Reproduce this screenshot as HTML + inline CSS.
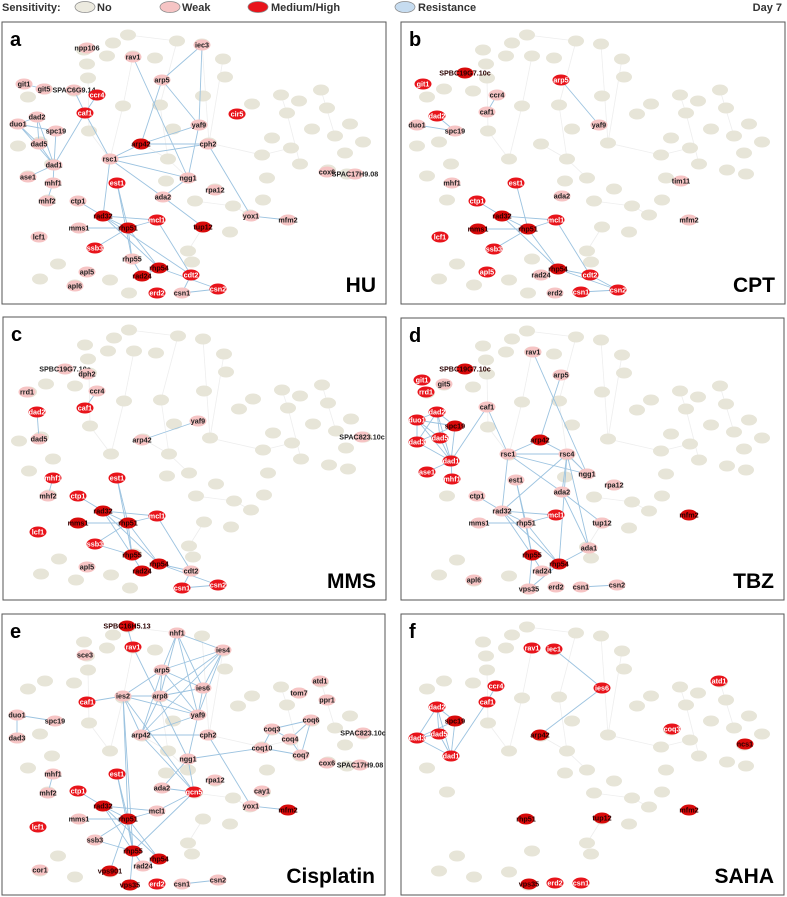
<!DOCTYPE html>
<html><head><meta charset="utf-8">
<style>
html,body{margin:0;padding:0;background:#fff;}
svg{display:block;font-family:"Liberation Sans",Arial,sans-serif;}
</style></head>
<body>
<svg id="fig" width="787" height="897" viewBox="0 0 787 897" xmlns="http://www.w3.org/2000/svg">
  <g font-weight="bold" font-size="11">
    <text x="2" y="11" fill="#333">Sensitivity:</text>
    <ellipse cx="85" cy="7" rx="10" ry="5.5" fill="#eceadf" stroke="#888" stroke-width="0.7"/>
    <text x="97" y="11" fill="#333">No</text>
    <ellipse cx="170" cy="7" rx="10" ry="5.5" fill="#f6c4c4" stroke="#888" stroke-width="0.7"/>
    <text x="182" y="11" fill="#333">Weak</text>
    <ellipse cx="258" cy="7" rx="10" ry="5.5" fill="#e8141b" stroke="#888" stroke-width="0.7"/>
    <text x="271" y="11" fill="#333">Medium/High</text>
    <ellipse cx="405" cy="7" rx="10" ry="5.5" fill="#c6dcf0" stroke="#888" stroke-width="0.7"/>
    <text x="418" y="11" fill="#333">Resistance</text>
    <text x="782" y="11" text-anchor="end" fill="#333">Day 7</text>
  </g>
</svg>
<script>
const panelLetters = ["a","b","c","d","e","f"];
const panelDrugs = ["HU","CPT","MMS","TBZ","Cisplatin","SAHA"];
const panelBoxes = [[2,22,384,282],[401,22,384,282],[3,317,383,283],[401,318,383,282],[2,614,383,281],[401,614,383,281]];

const greyNodes = [[126,13],[111,21],[175,19],[200,22],[82,28],[105,34],[131,34],[153,36],[221,37],[85,42],[223,55],[86,56],[43,67],[72,69],[26,75],[201,74],[121,84],[158,83],[250,82],[236,92],[319,68],[279,73],[297,79],[325,86],[285,91],[171,107],[87,109],[310,107],[348,102],[333,114],[361,120],[270,116],[16,124],[38,120],[140,122],[207,121],[289,126],[343,131],[108,137],[166,137],[260,133],[50,142],[298,142],[326,148],[345,152],[26,154],[186,156],[213,167],[46,178],[193,179],[261,178],[231,184],[248,193],[201,205],[228,210],[131,237],[186,229],[56,242],[38,257],[73,263],[108,258],[127,271],[164,159],[265,156],[190,240]];
const greyEdges = [[126,13,175,19],[175,19,158,83],[200,22,207,121],[131,34,121,84],[121,84,108,137],[158,83,166,137],[207,121,260,133],[260,133,289,126],[279,73,285,91],[285,91,298,142],[319,68,333,114],[86,56,87,109],[87,109,108,137],[166,137,186,156],[193,179,231,184],[231,184,248,193],[186,229,201,205],[140,122,166,137],[221,37,207,121]];

const nodesA = [["npp106",85,26,1],["rav1",131,35,1],["iec3",200,23,1],["arp5",160,58,1],["git1",22,62,1],["git5",42,67,1],["SPAC6G9.14",72,68,1],["ccr4",95,73,2],["caf1",83,91,2],["cir5",235,92,2],["dad2",35,95,1],["duo1",16,102,1],["spc19",54,109,1],["yaf9",197,103,1],["dad5",37,122,1],["arp42",139,122,3],["cph2",206,122,1],["rsc1",108,137,1],["dad1",52,143,1],["ase1",26,155,1],["ngg1",186,156,1],["cox6",325,150,1],["SPAC17H9.08",353,152,1],["mhf1",51,161,1],["est1",115,161,2],["rpa12",213,168,1],["ada2",161,175,1],["mhf2",45,179,1],["ctp1",76,179,1],["rad32",101,194,3],["mcl1",155,198,2],["yox1",249,194,1],["mfm2",286,198,1],["mms1",77,206,1],["rhp51",126,206,3],["tup12",201,205,3],["lcf1",37,215,1],["ssb3",93,226,2],["rhp55",130,237,1],["rhp54",157,246,3],["apl5",85,250,1],["rad24",140,254,3],["cdt2",189,253,2],["apl6",73,264,1],["erd2",155,271,2],["csn1",180,271,1],["csn2",216,267,2]];
const edgesA = [["iec3","arp5"],["iec3","yaf9"],["rav1","ngg1"],["arp5","arp42"],["arp5","yaf9"],["git1","git5"],["SPAC6G9.14","caf1"],["ccr4","caf1"],["caf1","dad1"],["caf1","rsc1"],["dad2","duo1"],["dad2","dad5"],["dad2","dad1"],["duo1","spc19"],["duo1","dad5"],["duo1","dad1"],["spc19","dad1"],["dad5","dad1"],["dad1","ase1"],["dad1","mhf1"],["mhf1","mhf2"],["yaf9","arp42"],["yaf9","ngg1"],["cph2","arp42"],["cph2","rsc1"],["cph2","yox1"],["rsc1","arp42"],["rsc1","ngg1"],["rsc1","ada2"],["rsc1","rad32"],["ngg1","ada2"],["ada2","tup12"],["est1","rhp51"],["est1","rhp55"],["ctp1","rad32"],["rad32","rhp51"],["rad32","mcl1"],["rad32","rhp54"],["mms1","rhp51"],["rhp51","mcl1"],["rhp51","ssb3"],["rhp51","rhp55"],["rhp51","rhp54"],["rhp55","rad24"],["rhp54","csn2"],["mcl1","cdt2"],["cdt2","csn1"],["csn1","csn2"],["yox1","mfm2"],["rhp54","rad24"],["rad32","cdt2"]];

const nodesB = [["SPBC19G7.10c",64,51,3],["git1",22,62,2],["arp5",160,58,2],["ccr4",96,73,1],["caf1",86,90,1],["dad2",36,94,2],["duo1",16,103,1],["yaf9",198,103,1],["spc19",54,109,1],["mhf1",51,161,1],["est1",115,161,2],["tim11",280,159,1],["ada2",161,174,1],["ctp1",76,179,2],["rad32",101,194,3],["mcl1",155,198,2],["mfm2",288,198,1],["mms1",77,207,3],["rhp51",127,207,3],["lcf1",39,215,2],["ssb3",93,227,2],["rhp54",157,247,3],["apl5",86,250,2],["rad24",140,253,1],["cdt2",189,253,2],["csn2",217,268,2],["csn1",180,270,2],["erd2",154,271,1]];
const edgesB = [["arp5","yaf9"],["ccr4","caf1"],["dad2","spc19"],["duo1","spc19"],["est1","rhp51"],["ctp1","rad32"],["rad32","rhp51"],["rad32","mcl1"],["rad32","rhp54"],["mms1","rhp51"],["rhp51","mcl1"],["rhp51","ssb3"],["rhp51","rhp54"],["mcl1","cdt2"],["rhp54","cdt2"],["cdt2","csn2"],["csn1","csn2"],["rhp54","csn2"]];

const nodesC = [["SPBC19G7.10c",62,52,1],["dph2",84,57,1],["rrd1",24,75,1],["ccr4",94,74,1],["caf1",82,91,2],["dad2",34,95,2],["yaf9",195,104,1],["dad5",36,122,1],["arp42",139,123,1],["SPAC823.10c",359,120,1],["mhf1",50,161,2],["est1",114,161,2],["mhf2",45,179,1],["ctp1",75,179,2],["rad32",100,194,3],["mcl1",154,199,2],["mms1",75,206,3],["rhp51",125,206,3],["lcf1",35,215,2],["ssb3",92,227,2],["rhp55",129,238,3],["rhp54",156,247,3],["apl5",84,250,1],["rad24",139,254,3],["cdt2",188,254,1],["csn1",179,271,2],["csn2",215,268,2]];
const edgesC = [["ccr4","caf1"],["dad2","dad5"],["yaf9","arp42"],["mhf1","mhf2"],["est1","rhp51"],["est1","rhp55"],["ctp1","rad32"],["rad32","rhp51"],["rad32","mcl1"],["rad32","rhp55"],["rad32","rhp54"],["mms1","rhp51"],["rhp51","mcl1"],["rhp51","ssb3"],["rhp51","rhp55"],["rhp51","rhp54"],["ssb3","rhp55"],["rhp55","rad24"],["mcl1","cdt2"],["rhp54","cdt2"],["rhp54","csn2"],["cdt2","csn1"],["csn1","csn2"]];

const nodesD = [["rav1",132,34,1],["SPBC19G7.10c",64,51,3],["git1",21,62,2],["git5",43,66,1],["rrd1",25,74,2],["arp5",160,57,1],["caf1",86,89,1],["dad2",36,94,2],["duo1",16,102,2],["spc19",54,108,3],["dad5",39,120,2],["dad3",16,124,2],["arp42",139,122,3],["rsc1",107,136,1],["rsc4",166,136,1],["dad1",50,143,2],["ngg1",186,156,1],["ase1",26,154,2],["mhf1",51,161,2],["est1",115,162,1],["rpa12",213,167,1],["ada2",161,174,1],["ctp1",76,178,1],["rad32",101,193,1],["mcl1",155,197,2],["mfm2",288,197,3],["mms1",78,205,1],["rhp51",125,205,1],["tup12",201,205,1],["ada1",188,230,1],["rhp55",131,237,3],["rhp54",158,246,3],["rad24",141,253,1],["apl6",73,262,1],["vps35",128,271,1],["erd2",155,269,1],["csn1",180,269,1],["csn2",216,267,1]];
const edgesD = [["duo1","dad2"],["duo1","spc19"],["duo1","dad5"],["duo1","dad3"],["duo1","dad1"],["dad2","spc19"],["dad2","dad5"],["dad2","dad1"],["dad2","dad3"],["spc19","dad1"],["dad5","dad1"],["dad3","dad1"],["dad3","spc19"],["dad1","ase1"],["dad1","mhf1"],["dad1","caf1"],["caf1","rsc1"],["rav1","ngg1"],["arp5","arp42"],["arp42","rsc4"],["rsc1","arp42"],["rsc1","rsc4"],["rsc1","ngg1"],["rsc1","ada2"],["rsc1","rad32"],["rsc4","ngg1"],["rsc4","ada2"],["rsc4","rad32"],["rsc4","ada1"],["rsc4","rhp54"],["est1","rhp51"],["est1","rhp55"],["ctp1","rad32"],["rad32","mcl1"],["rad32","rhp51"],["rad32","rhp55"],["rad32","rhp54"],["mms1","rhp51"],["rhp51","mcl1"],["rhp51","rhp55"],["rhp51","rhp54"],["ada2","tup12"],["ada2","ada1"],["ada1","rhp54"],["rhp55","vps35"],["rhp55","rad24"],["rhp54","rad24"],["rhp54","vps35"],["csn1","csn2"]];

const nodesE = [["SPBC16H5.13",125,12,3],["nhf1",175,19,1],["rav1",131,33,2],["ies4",221,36,1],["sce3",83,41,1],["arp5",160,56,1],["atd1",318,67,1],["ies6",201,74,1],["tom7",297,79,1],["ies2",121,82,1],["arp8",158,82,1],["caf1",85,88,2],["ppr1",325,86,1],["duo1",15,101,1],["yaf9",196,101,1],["coq6",309,106,1],["spc19",53,107,1],["coq3",270,115,1],["arp42",139,121,1],["cph2",206,121,1],["coq4",288,125,1],["dad3",15,124,1],["SPAC823.10c",361,119,1],["coq10",260,134,1],["coq7",299,141,1],["ngg1",186,145,1],["cox6",325,149,1],["SPAC17H9.08",358,151,1],["est1",115,160,2],["mhf1",51,160,1],["rpa12",213,166,1],["ada2",160,174,1],["gcn5",192,178,2],["ctp1",76,177,2],["mhf2",46,179,1],["cay1",260,177,1],["rad32",101,192,3],["yox1",249,192,1],["mfm2",286,196,3],["mcl1",155,197,1],["mms1",77,205,1],["rhp51",126,205,3],["lcf1",36,213,2],["ssb3",93,226,1],["rhp55",131,237,3],["rhp54",157,245,3],["rad24",141,252,1],["cor1",38,256,1],["vps901",108,257,3],["vps35",128,271,3],["erd2",155,270,2],["csn1",180,270,1],["csn2",216,266,1]];
const edgesE = [["SPBC16H5.13","rav1"],["rav1","ngg1"],["nhf1","ies4"],["nhf1","arp5"],["nhf1","arp8"],["nhf1","ies6"],["nhf1","yaf9"],["ies4","arp5"],["ies4","arp8"],["ies4","ies6"],["ies4","yaf9"],["ies4","arp42"],["arp5","arp8"],["arp5","ies6"],["arp5","yaf9"],["arp5","arp42"],["arp5","ies2"],["ies2","caf1"],["ies2","arp8"],["ies2","yaf9"],["ies2","arp42"],["ies2","rhp51"],["ies2","rhp55"],["ies2","gcn5"],["arp8","arp42"],["arp8","ies6"],["arp8","yaf9"],["ies6","yaf9"],["yaf9","arp42"],["yaf9","ngg1"],["arp42","cph2"],["arp42","gcn5"],["cph2","yox1"],["ngg1","coq10"],["ngg1","ada2"],["ngg1","gcn5"],["coq10","coq3"],["coq10","coq7"],["coq3","coq6"],["coq3","coq4"],["coq6","coq4"],["coq6","coq7"],["coq4","coq7"],["duo1","spc19"],["duo1","dad3"],["mhf1","mhf2"],["est1","rhp51"],["est1","rhp55"],["ctp1","rad32"],["rad32","rhp51"],["rad32","mcl1"],["rad32","rhp55"],["rad32","rhp54"],["mms1","rhp51"],["rhp51","mcl1"],["rhp51","ssb3"],["rhp51","rhp55"],["rhp51","rhp54"],["rhp51","vps901"],["mcl1","gcn5"],["gcn5","rhp55"],["ssb3","rhp55"],["rhp55","rad24"],["rhp55","vps35"],["rhp54","rad24"],["yox1","mfm2"],["csn1","csn2"],["ada2","gcn5"]];

const nodesF = [["rav1",131,34,2],["iec1",153,35,2],["ies6",201,74,2],["atd1",318,67,2],["ccr4",95,72,2],["caf1",86,88,2],["dad2",36,93,2],["spc19",54,107,3],["coq3",271,115,2],["dad5",38,120,2],["arp42",139,121,3],["dad3",16,124,2],["ncs1",344,130,3],["dad1",50,142,2],["mfm2",288,196,3],["rhp51",125,205,3],["tup12",201,204,3],["vps35",128,270,3],["erd2",154,269,2],["csn1",180,269,2]];
const edgesF = [["iec1","ies6"],["ies6","arp42"],["dad2","spc19"],["dad2","dad5"],["dad2","dad3"],["dad2","dad1"],["spc19","dad1"],["spc19","dad3"],["dad5","dad1"],["dad3","dad1"],["dad3","dad5"],["caf1","dad1"],["ccr4","caf1"]];

const allNodes = [nodesA,nodesB,nodesC,nodesD,nodesE,nodesF];
const allEdges = [edgesA,edgesB,edgesC,edgesD,edgesE,edgesF];

const NS = "http://www.w3.org/2000/svg";
const svg = document.getElementById("fig");
const fills = ["#e7e5d8","#f6c4c4","#e8141b","#d80a0a"];
const textCols = ["#ccc","#222","#fff","#2a0000"];
function mk(tag, attrs, parent){ const e=document.createElementNS(NS,tag); for(const k in attrs) e.setAttribute(k,attrs[k]); parent.appendChild(e); return e; }

panelBoxes.forEach((b,pi)=>{
  const g = mk("g",{transform:`translate(${b[0]},${b[1]})`},svg);
  
  
  const r = mk("rect",{x:0,y:0,width:b[2],height:b[3],fill:"#fff",stroke:"#555","stroke-width":1},g);
  
  
  greyEdges.forEach(e=>{
    const l = mk("line",{x1:e[0],y1:e[1],x2:e[2],y2:e[3],stroke:"#eeeeee","stroke-width":0.8},g);
    
    
  });
  greyNodes.forEach(n=>{
    const el = mk("ellipse",{cx:n[0],cy:n[1],rx:8,ry:5.5,fill:fills[0]},g);
    
    
  });
  const nodes = allNodes[pi];
  const pos = {};
  nodes.forEach(n=>{pos[n[0]]=n;});
  allEdges[pi].forEach(e=>{
    const a=pos[e[0]], c=pos[e[1]];
    if(!a||!c) return;
    const l = mk("line",{x1:a[1],y1:a[2],x2:c[1],y2:c[2],stroke:"#9cc3e0","stroke-width":0.9},g);
    
    
  });
  nodes.forEach(n=>{
    const el = mk("ellipse",{cx:n[1],cy:n[2],rx:8.5,ry:5.5,fill:fills[n[3]]},g);
    
    
    const t = mk("text",{x:n[1],y:n[2]+2.6,"text-anchor":"middle","font-size":7.2,"font-weight":"bold",fill:textCols[n[3]]},g);
    t.textContent = n[0];
    
    
  });
  const lt = mk("text",{x:8,y:24,"font-size":20,"font-weight":"bold",fill:"#000"},g);
  lt.textContent = panelLetters[pi];
  
  
  const dt = mk("text",{x:b[2]-10,y:b[3]-12,"text-anchor":"end","font-size":21,"font-weight":"bold",fill:"#000"},g);
  dt.textContent = panelDrugs[pi];
  
  
});
</script>
</body></html>
